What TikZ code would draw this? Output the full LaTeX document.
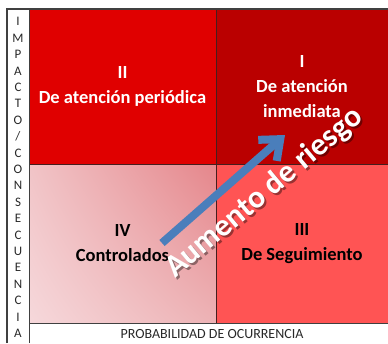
\documentclass[tikz,border=0pt]{standalone}
\usepackage{fontspec}
\setmainfont{Carlito}
\usepackage{xcolor}
\usetikzlibrary{arrows.meta,shadings}

\definecolor{quadII}{RGB}{224,0,0}
\definecolor{quadI}{RGB}{186,0,0}
\definecolor{quadIII}{RGB}{255,84,84}
\definecolor{pinkTL}{RGB}{241,196,199}
\definecolor{pinkTR}{RGB}{229,134,139}
\definecolor{pinkBL}{RGB}{246,216,219}
\definecolor{pinkBR}{RGB}{237,178,181}
\definecolor{frameGray}{RGB}{64,64,64}
\definecolor{gridLine}{RGB}{70,30,30}
\definecolor{arrowBlue}{RGB}{74,126,187}
\definecolor{labelGray}{RGB}{40,40,40}

\tikzset{
  quad/.style={draw=gridLine, line width=0.7pt, inner sep=0pt, align=center,
    font=\fontsize{18.5}{25}\selectfont\bfseries},
  axislabel/.style={text=labelGray, inner sep=0pt, align=center},
  framing/.style={draw=frameGray, line width=1.2pt},
  riskarrow/.style={draw=arrowBlue, line width=8pt,
    -{Straight Barb[length=17pt, width=28pt]}},
  risktext/.style={inner sep=0pt, rotate=40, anchor=base west,
    font=\fontsize{31.5}{31.5}\selectfont\bfseries}
}

\begin{document}
\begin{tikzpicture}[x=1pt, y=-1pt]
    \useasboundingbox (0,0) rectangle (388,343);
    % quadrants
    \node[quad, fill=quadII, text=white, minimum width=187, minimum height=155] (qII) at (122.5,86.5) {II\\De atención periódica};
    \node[quad, fill=quadI, text=white, minimum width=172, minimum height=155] (qI) at (302,86.5) {I\\De atención\\inmediata};
    \node[quad, upper left=pinkTL, upper right=pinkTR, lower left=pinkBL, lower right=pinkBR, text=black, minimum width=187, minimum height=159] (qIV) at (122.5,243.5) {IV\\Controlados};
    \node[quad, fill=quadIII, text=black, minimum width=172, minimum height=159] (qIII) at (302,243.5) {III\\De Seguimiento};
    % frame
    \draw[framing] (7,343) -- (7,9) -- (388,9);
    \draw[framing, line width=0.9pt] (29,343) -- (29,9);
    \draw[framing, line width=0.9pt] (29,323) -- (388,323);
    % axis labels
    \node[axislabel, font=\fontsize{13}{16.4}\selectfont] (impact) at (18,177.5) {I\\M\\P\\A\\C\\T\\O\\/\\C\\O\\N\\S\\E\\C\\U\\E\\N\\C\\I\\A};
    \node[axislabel, font=\fontsize{14}{16}\selectfont] (prob) at (212,334) {PROBABILIDAD DE OCURRENCIA};
    % arrow
    \coordinate (low) at (162,243);
    \coordinate (high) at (285,135);
    \draw[riskarrow] (low) -- (high);
    % rotated label with shadow
    \node[risktext, text=black, opacity=0.4] (riskshadow) at (177,281) {Aumento de riesgo};
    \node[risktext, text=white] (risk) at (175,279) {Aumento de riesgo};
\end{tikzpicture}
\end{document}
